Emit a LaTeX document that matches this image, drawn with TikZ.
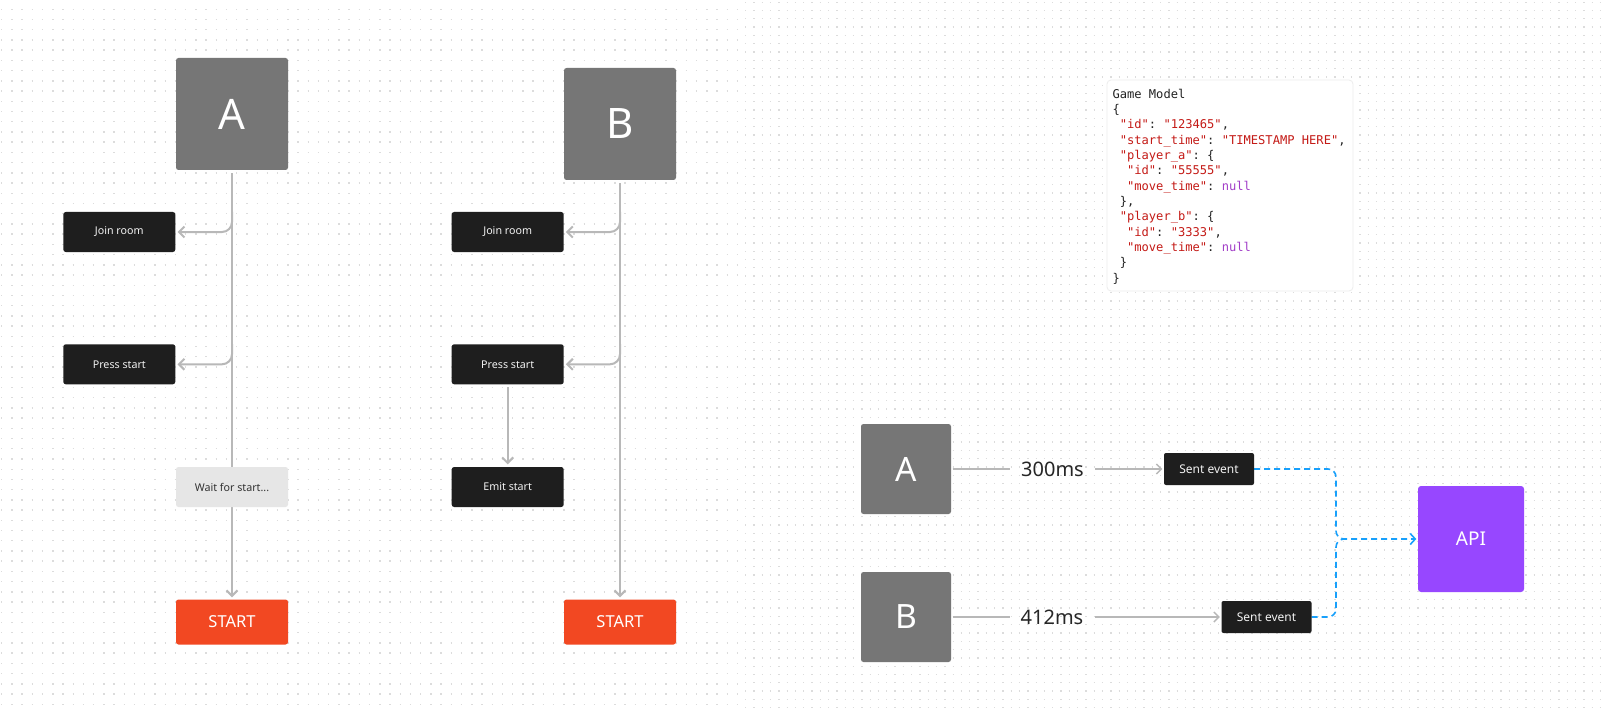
\documentclass[tikz,border=0pt]{standalone}
\usepackage{fontspec}
\setmainfont{Noto Sans}
\setmonofont{DejaVu Sans Mono}
\usetikzlibrary{arrows.meta,calc}
\pgfdeclarelayer{bg}
\pgfsetlayers{bg,main}
\definecolor{boxgray}{HTML}{767676}
\definecolor{nodeblack}{HTML}{1E1E1E}
\definecolor{waitgray}{HTML}{E6E6E6}
\definecolor{startred}{HTML}{F24822}
\definecolor{apipurple}{HTML}{9747FF}
\definecolor{conngray}{HTML}{B8B8B8}
\definecolor{dashblue}{HTML}{18A0FB}
\definecolor{jsonred}{HTML}{C41A16}
\definecolor{jsonpurple}{HTML}{A23EC8}
\definecolor{jtext}{HTML}{222222}
\definecolor{dotcol}{HTML}{DCDCDC}
\definecolor{nodetext}{HTML}{F2F2F2}
\newcommand\jsp{\hphantom{x}}
\newcommand\jr[1]{\textcolor{jsonred}{#1}}
\newcommand\jnull{\textcolor{jsonpurple}{null}}
\begin{document}
\begin{tikzpicture}[x=1pt,y=-1pt,
  bigbox/.style={fill=boxgray, rounded corners=2.5pt, minimum width=112pt, minimum height=112pt, inner sep=0pt, text=white, font=\fontsize{42}{42}\selectfont},
  midbox/.style={fill=boxgray, rounded corners=2.5pt, minimum width=90pt, minimum height=90pt, inner sep=0pt, text=white, font=\fontsize{33.5}{34}\selectfont},
  stepbox/.style={fill=nodeblack, rounded corners=2.5pt, minimum width=112pt, minimum height=40pt, inner sep=0pt, text=nodetext, font=\fontsize{10.7}{12}\selectfont},
  waitbox/.style={fill=waitgray, rounded corners=2.5pt, minimum width=112pt, minimum height=40pt, inner sep=0pt, text=black!80, font=\fontsize{10.7}{12}\selectfont},
  startbox/.style={fill=startred, rounded corners=2.5pt, minimum width=112pt, minimum height=45pt, inner sep=0pt, text=white, font=\fontsize{16.5}{18}\selectfont},
  sentbox/.style={fill=nodeblack, rounded corners=2pt, minimum width=90pt, minimum height=32pt, inner sep=0pt, text=nodetext, font=\fontsize{12}{14}\selectfont},
  apibox/.style={fill=apipurple, rounded corners=3pt, minimum width=106pt, minimum height=106pt, inner sep=0pt, text=white, font=\fontsize{19}{20}\selectfont},
  mslabel/.style={inner xsep=11pt, inner ysep=0pt, text=black!85, font=\fontsize{20}{22}\selectfont},
  jline/.style={anchor=base west, inner sep=0pt, text=jtext, font=\ttfamily\fontsize{12.1}{14}\selectfont},
  conn/.style={draw=conngray, line width=2pt},
  thinconn/.style={draw=conngray, line width=1.4pt},
  tipgray/.style={-{Straight Barb[length=5.5pt,width=11pt]}},
  dashconn/.style={draw=dashblue, line width=1.6pt, dash pattern=on 6pt off 4pt},
]
\useasboundingbox (0,0) rectangle (1603,714);
\begin{pgfonlayer}{bg}
  \fill[white] (0,0) rectangle (1603,714);
  \foreach \r in {0,...,68}
    \draw[dotcol, line width=1.4pt, dash pattern=on 1.4pt off 8.82pt] (1.0,{9.3+\r*10.22}) -- (741,{9.3+\r*10.22});
  \foreach \r in {0,...,85}
    \draw[dotcol, line width=1.3pt, dash pattern=on 1.3pt off 7pt] (745,{2.2+\r*8.3}) -- (1603,{2.2+\r*8.3});
\end{pgfonlayer}

% ---- column A
\node[bigbox] (A) at (232,114) {A};
\node[stepbox] (joinA) at (119.3,232) {Join room};
\node[stepbox] (pressA) at (119.3,364.3) {Press start};
\node[waitbox] (waitA) at (232,487) {Wait for start...};
\node[startbox] (startA) at (232,622) {START};

% ---- column B
\node[bigbox] (B) at (620,124) {B};
\node[stepbox] (joinB) at (507.7,232) {Join room};
\node[stepbox] (pressB) at (507.7,364.3) {Press start};
\node[stepbox] (emitB) at (507.7,487) {Emit start};
\node[startbox] (startB) at (620,622) {START};

% ---- right section
\node[midbox] (A2) at (906,469) {A};
\node[midbox] (B2) at (906,617) {B};
\node[mslabel] (l300) at (1052.5,469) {300ms};
\node[mslabel] (l412) at (1052,617) {412ms};
\node[sentbox] (sA) at (1209,469) {Sent event};
\node[sentbox] (sB) at (1266.5,617) {Sent event};
\node[apibox] (api) at (1471,539) {API};
\coordinate (mx) at (1336,539);

% ---- JSON card
\node[fill=white, draw=black!7, line width=0.8pt, rounded corners=4pt, minimum width=246pt, minimum height=211pt, inner sep=0pt] (json) at (1230,185.5) {};
\node[jline] (j1) at (1112.3,98.3) {Game Model};
\node[jline] (j2) at (1112.3,113.63) {\{};
\node[jline] (j3) at (1112.3,128.96) {\jsp\jr{"id"}: \jr{"123465"},};
\node[jline] (j4) at (1112.3,144.29) {\jsp\jr{"start\_time"}: \jr{"TIMESTAMP HERE"},};
\node[jline] (j5) at (1112.3,159.62) {\jsp\jr{"player\_a"}: \{};
\node[jline] (j6) at (1112.3,174.95) {\jsp\jsp\jr{"id"}: \jr{"55555"},};
\node[jline] (j7) at (1112.3,190.28) {\jsp\jsp\jr{"move\_time"}: \jnull};
\node[jline] (j8) at (1112.3,205.61) {\jsp\},};
\node[jline] (j9) at (1112.3,220.94) {\jsp\jr{"player\_b"}: \{};
\node[jline] (j10) at (1112.3,236.27) {\jsp\jsp\jr{"id"}: \jr{"3333"},};
\node[jline] (j11) at (1112.3,251.6) {\jsp\jsp\jr{"move\_time"}: \jnull};
\node[jline] (j12) at (1112.3,266.93) {\jsp\}};
\node[jline] (j13) at (1112.3,282.26) {\}};

% ---- connectors
\begin{pgfonlayer}{bg}
  \draw[conn, tipgray, shorten <=3pt, shorten >=2pt] (A.south) -- (startA.north);
  \draw[conn, tipgray, rounded corners=10pt, shorten >=2pt] (A.south |- joinA.north) -- (A.south |- joinA.east) -- (joinA.east);
  \draw[conn, tipgray, rounded corners=10pt, shorten >=2pt] (A.south |- pressA.north) -- (A.south |- pressA.east) -- (pressA.east);

  \draw[conn, tipgray, shorten <=3pt, shorten >=2pt] (B.south) -- (startB.north);
  \draw[conn, tipgray, rounded corners=10pt, shorten >=2pt] (B.south |- joinB.north) -- (B.south |- joinB.east) -- (joinB.east);
  \draw[conn, tipgray, rounded corners=10pt, shorten >=2pt] (B.south |- pressB.north) -- (B.south |- pressB.east) -- (pressB.east);
  \draw[conn, tipgray, shorten <=2.5pt, shorten >=2.5pt] (pressB.south) -- (emitB.north);

  \draw[thinconn, shorten <=1.5pt] (A2.east) -- (l300.west);
  \draw[thinconn, -{Straight Barb[length=5pt,width=10pt]}, shorten >=1.5pt] (l300.east) -- (sA.west);
  \draw[thinconn, shorten <=1.5pt] (B2.east) -- (l412.west);
  \draw[thinconn, -{Straight Barb[length=5pt,width=10pt]}, shorten >=1.5pt] (l412.east) -- (sB.west);

  \draw[dashconn, rounded corners=8pt, -{Straight Barb[length=5pt,width=11pt]}, shorten >=1.5pt] (sA.east) -- (sA.east -| mx) -- (mx) -- (api.west);
  \draw[dashconn, rounded corners=8pt] (sB.east) -- (sB.east -| mx) -- (mx) -- ([xshift=9pt]mx);
\end{pgfonlayer}
\end{tikzpicture}
\end{document}
